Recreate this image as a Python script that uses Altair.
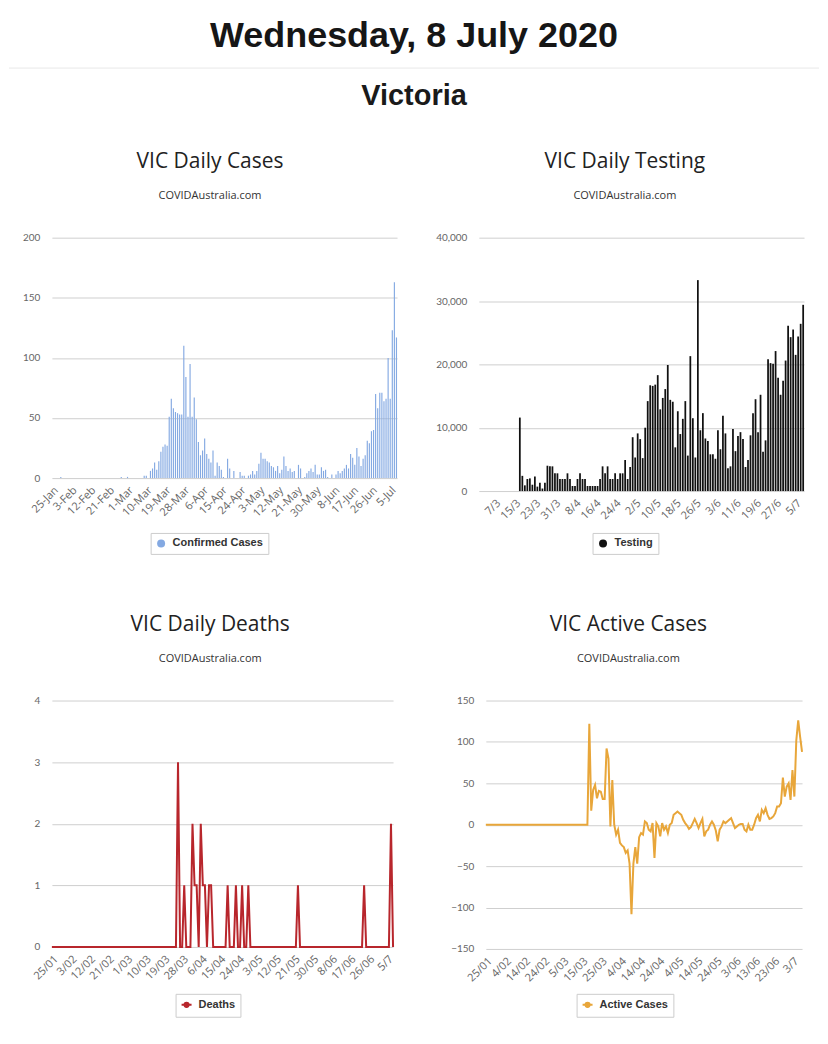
import altair as alt
import pandas as pd

# ---------------- data ----------------
# VIC daily confirmed cases, one value per day from 25-Jan to 8-Jul
CASES = [
    0, 0, 0, 0, 1, 0, 0, 0, 0, 0,
    0, 0, 0, 0, 0, 0, 0, 0, 0, 0,
    0, 0, 0, 0, 0, 0, 0, 0, 0, 0,
    0, 0, 0, 1, 0, 0, 1, 0, 0, 0,
    0, 0, 0, 0, 2, 2, 0, 6, 8, 13,
    7, 14, 22, 26, 28, 27, 51, 66, 58, 55,
    54, 53, 53, 110, 84, 51, 95, 51, 67, 49,
    30, 19, 23, 33, 20, 16, 13, 23, 2, 13,
    10, 7, 1, 0, 16, 8, 0, 6, 0, 0,
    5, 2, 2, 0, 2, 3, 6, 3, 6, 12,
    21, 16, 16, 14, 13, 10, 9, 6, 10, 4,
    7, 18, 10, 6, 8, 5, 6, 0, 11, 8,
    0, 1, 4, 6, 8, 5, 11, 3, 3, 9,
    6, 7, 1, 0, 3, 0, 3, 6, 4, 6,
    8, 11, 8, 20, 17, 11, 25, 18, 10, 16,
    19, 31, 29, 39, 40, 70, 58, 71, 71, 64,
    66, 100, 66, 123, 163, 117,
]
CASE_TICKS = ["25-Jan", "3-Feb", "12-Feb", "21-Feb", "1-Mar", "10-Mar", "19-Mar",
              "28-Mar", "6-Apr", "15-Apr", "24-Apr", "3-May", "12-May", "21-May",
              "30-May", "8-Jun", "17-Jun", "26-Jun", "5-Jul"]

# VIC daily tests, one value per day from 1/3 to 8/7
TESTS = [
    0, 0, 0, 0, 0, 0, 0, 0, 0, 0,
    0, 0, 0, 0, 0, 0, 11600, 2400, 900, 1900,
    2000, 1000, 2300, 700, 1300, 400, 1300, 4000, 3900, 3900,
    2800, 2800, 1900, 1900, 1900, 2800, 1900, 800, 800, 1900,
    2800, 1900, 1900, 800, 800, 800, 800, 800, 1900, 3900,
    2800, 3900, 1900, 1900, 2800, 1900, 2800, 2800, 4900, 1900,
    3800, 8500, 5300, 9100, 8200, 5200, 10000, 14200, 16700, 16600,
    16800, 18300, 12900, 14700, 16100, 19900, 14400, 14100, 6900, 12600,
    9000, 11400, 14200, 5600, 21300, 11500, 5300, 33300, 9600, 12300,
    8300, 7900, 5800, 5800, 5100, 9600, 6600, 11900, 9100, 3600,
    3900, 9800, 6300, 8700, 9300, 8200, 3800, 4900, 8800, 12300,
    14500, 9300, 15200, 6200, 8000, 20800, 20200, 20100, 22100, 17900,
    15200, 17400, 20600, 26100, 24300, 25500, 21500, 24400, 26400, 29400,
]
TEST_TICKS = ["7/3", "15/3", "23/3", "31/3", "8/4", "16/4", "24/4", "2/5", "10/5",
              "18/5", "26/5", "3/6", "11/6", "19/6", "27/6", "5/7"]

# VIC daily deaths, 25/01 to 8/7
DEATHS = [
    0, 0, 0, 0, 0, 0, 0, 0, 0, 0,
    0, 0, 0, 0, 0, 0, 0, 0, 0, 0,
    0, 0, 0, 0, 0, 0, 0, 0, 0, 0,
    0, 0, 0, 0, 0, 0, 0, 0, 0, 0,
    0, 0, 0, 0, 0, 0, 0, 0, 0, 0,
    0, 0, 0, 0, 0, 0, 0, 0, 0, 0,
    0, 3, 0, 0, 1, 0, 0, 0, 2, 1,
    1, 0, 2, 1, 1, 0, 1, 1, 0, 0,
    0, 0, 0, 0, 0, 1, 0, 0, 0, 1,
    0, 0, 1, 0, 0, 1, 0, 0, 0, 0,
    0, 0, 0, 0, 0, 0, 0, 0, 0, 0,
    0, 0, 0, 0, 0, 0, 0, 0, 0, 1,
    0, 0, 0, 0, 0, 0, 0, 0, 0, 0,
    0, 0, 0, 0, 0, 0, 0, 0, 0, 0,
    0, 0, 0, 0, 0, 0, 0, 0, 0, 0,
    0, 1, 0, 0, 0, 0, 0, 0, 0, 0,
    0, 0, 0, 0, 2, 0,
]
DEATH_TICKS = ["25/01", "3/02", "12/02", "21/02", "1/03", "10/03", "19/03", "28/03",
               "6/04", "15/04", "24/04", "3/05", "12/05", "21/05", "30/05", "8/06",
               "17/06", "26/06", "5/7"]

# VIC daily change in active cases, 25/01 to 8/7
ACTIVE = [
    0, 0, 0, 0, 0, 0, 0, 0, 0, 0,
    0, 0, 0, 0, 0, 0, 0, 0, 0, 0,
    0, 0, 0, 0, 0, 0, 0, 0, 0, 0,
    0, 0, 0, 0, 0, 0, 0, 0, 0, 0,
    0, 0, 0, 0, 0, 0, 0, 0, 0, 0,
    0, 0, 0, 0, 122, 17, 42, 48, 32, 41,
    40, 31, 31, 92, 80, -2, 54, 0, -12, -6,
    -22, -25, -27, -34, -31, -47, -108, -47, -27, -47,
    -15, -10, -12, 4, 2, -6, -8, 2, -40, 2,
    -2, -14, 2, -6, -2, -10, 0, 2, 12, 14,
    16, 14, 12, 6, 2, -1, -5, -3, 2, 7,
    2, -4, 2, 7, -14, -8, -6, 0, 4, 0,
    -7, -20, -6, -2, 4, 2, 4, 6, 8, 2,
    -4, -2, 0, 1, 1, -6, -8, 0, -6, -6,
    0, 8, 12, 4, 18, 14, 20, 12, 7, 8,
    10, 14, 22, 22, 26, 57, 34, 46, 50, 30,
    66, 34, 102, 126, 106, 88,
]
ACTIVE_TICKS = ["25/01", "4/02", "14/02", "24/02", "5/03", "15/03", "25/03", "4/04",
                "14/04", "24/04", "4/05", "14/05", "24/05", "3/06", "13/06", "23/06", "3/7"]

# ---------------- styling ----------------
HEAD_FONT = "Liberation Sans"
PANEL_FONT = "Open Sans"
BLUE = "#84a9e2"
BLACK = "#111111"
RED = "#b8262c"
GOLD = "#e8a63a"
LINE_SYMBOL = "M-1,0L1,0M0.42,0A0.42,0.42,0,1,1,-0.42,0A0.42,0.42,0,1,1,0.42,0Z"


def x_axis(ticks, start, step):
    arr = "[" + ",".join("'%s'" % t for t in ticks) + "]"
    return alt.Axis(
        values=list(range(start, start + step * len(ticks), step)),
        labelExpr="%s[round((datum.value - %d) / %d)]" % (arr, start, step),
        labelAngle=-45, title=None, grid=False, labelOverlap=False, labelBound=False,
        labelFont="Open Sans", labelFontSize=11, labelColor="#666666", labelPadding=6,
    )


def panel_title(text, dx=0):
    return alt.Title(
        text, subtitle="COVIDAustralia.com", font=PANEL_FONT, fontSize=21,
        fontWeight="normal", color="#222222", subtitleFont=PANEL_FONT,
        subtitleFontSize=11, subtitleColor="#333333", subtitlePadding=18,
        offset=32, anchor="middle", frame="bounds", dx=dx,
    )


def legend(x, y, symbol="circle", size=64, color=None):
    kw = dict(
        orient="none", legendX=x, legendY=y, title=None, direction="horizontal",
        strokeColor="#cccccc", fillColor="#ffffff", padding=5,
        labelFont="Liberation Sans", labelFontWeight="bold", labelFontSize=11,
        labelColor="#333333", symbolType=symbol, symbolSize=size, labelOffset=6,
    )
    if color is not None:
        kw.update(symbolFillColor=color, symbolStrokeColor=color, symbolStrokeWidth=2)
    return alt.Legend(**kw)


df_cases = pd.DataFrame({"day": list(range(len(CASES))), "value": CASES,
                         "s1": ["Confirmed Cases"] * len(CASES)})
df_tests = pd.DataFrame({"day": list(range(len(TESTS))), "value": TESTS,
                         "s2": ["Testing"] * len(TESTS)})
df_deaths = pd.DataFrame({"day": list(range(len(DEATHS))), "value": DEATHS,
                          "s3": ["Deaths"] * len(DEATHS)})
df_active = pd.DataFrame({"day": list(range(len(ACTIVE))), "value": ACTIVE,
                          "s4": ["Active Cases"] * len(ACTIVE)})

p1 = alt.Chart(df_cases).mark_bar().encode(
    x=alt.X("day:O", sort=None, scale=alt.Scale(paddingInner=0.45, paddingOuter=0),
            axis=x_axis(CASE_TICKS, 0, 9)),
    y=alt.Y("value:Q", scale=alt.Scale(domain=[0, 200], nice=False),
            axis=alt.Axis(values=[0, 50, 100, 150, 200], title=None)),
    color=alt.Color("s1:N", scale=alt.Scale(range=[BLUE]), legend=legend(99, 296)),
).properties(width=346, height=241, title=panel_title("VIC Daily Cases"))

p2 = alt.Chart(df_tests).mark_bar().encode(
    x=alt.X("day:O", sort=None, scale=alt.Scale(paddingInner=0.3, paddingOuter=0),
            axis=x_axis(TEST_TICKS, 6, 8)),
    y=alt.Y("value:Q", scale=alt.Scale(domain=[0, 40000], nice=False),
            axis=alt.Axis(values=[0, 10000, 20000, 30000, 40000], format=",d", title=None)),
    color=alt.Color("s2:N", scale=alt.Scale(range=[BLACK]), legend=legend(114, 296)),
).properties(width=326, height=254, title=panel_title("VIC Daily Testing", 5))

p3 = alt.Chart(df_deaths).mark_line(strokeWidth=2).encode(
    x=alt.X("day:O", sort=None, scale=alt.Scale(type="point", padding=0),
            axis=x_axis(DEATH_TICKS, 0, 9)),
    y=alt.Y("value:Q", scale=alt.Scale(domain=[0, 4], nice=False),
            axis=alt.Axis(values=[0, 1, 2, 3, 4], title=None)),
    color=alt.Color("s3:N", scale=alt.Scale(range=[RED]),
                    legend=legend(124, 294, LINE_SYMBOL, 100, RED)),
).properties(width=342, height=247, title=panel_title("VIC Daily Deaths", -4))

p4 = alt.Chart(df_active).mark_line(strokeWidth=2).encode(
    x=alt.X("day:O", sort=None, scale=alt.Scale(type="point", padding=0),
            axis=x_axis(ACTIVE_TICKS, 0, 10)),
    y=alt.Y("value:Q", scale=alt.Scale(domain=[-150, 150], nice=False),
            axis=alt.Axis(values=[-150, -100, -50, 0, 50, 100, 150], title=None)),
    color=alt.Color("s4:N", scale=alt.Scale(range=[GOLD]),
                    legend=legend(91, 294, LINE_SYMBOL, 100, GOLD)),
).properties(width=317, height=249, title=panel_title("VIC Active Cases"))

header = alt.Chart(pd.DataFrame({"h": [0]})).mark_rule(color="#e8e8e8", strokeWidth=1).encode(
    x=alt.value(-43), x2=alt.value(769), y=alt.value(0)
).properties(width=700, height=1, title=alt.Title(
    "Victoria", orient="bottom", font=HEAD_FONT, fontSize=29, fontWeight="bold",
    color="#1a1a1a", anchor="middle", frame="bounds", offset=13))

row1 = alt.hconcat(p1, p2, spacing=37).resolve_scale(color="independent").resolve_legend(color="independent")
row2 = alt.hconcat(p3, p4, spacing=53).resolve_scale(color="independent").resolve_legend(color="independent")
rows = alt.vconcat(row1, row2, spacing=59).resolve_scale(color="independent").resolve_legend(color="independent")

chart = alt.vconcat(header, rows, spacing=40).resolve_scale(
    color="independent").resolve_legend(color="independent").properties(
    title=alt.Title("Wednesday, 8 July 2020", font=HEAD_FONT, fontSize=36, fontWeight="bold",
                    color="#161616", anchor="middle", offset=13),
    padding={"top": 8, "left": 0, "right": 0, "bottom": 0},
    background="white",
).configure_view(stroke=None).configure_axis(
    domain=False, ticks=False, gridColor="#cfcfcf", gridWidth=1,
    labelFont="Lato", labelFontSize=10, labelColor="#666666",
).configure_axisY(labelPadding=12)

chart.save("out.html", embed_options={"renderer": "svg", "actions": False})
